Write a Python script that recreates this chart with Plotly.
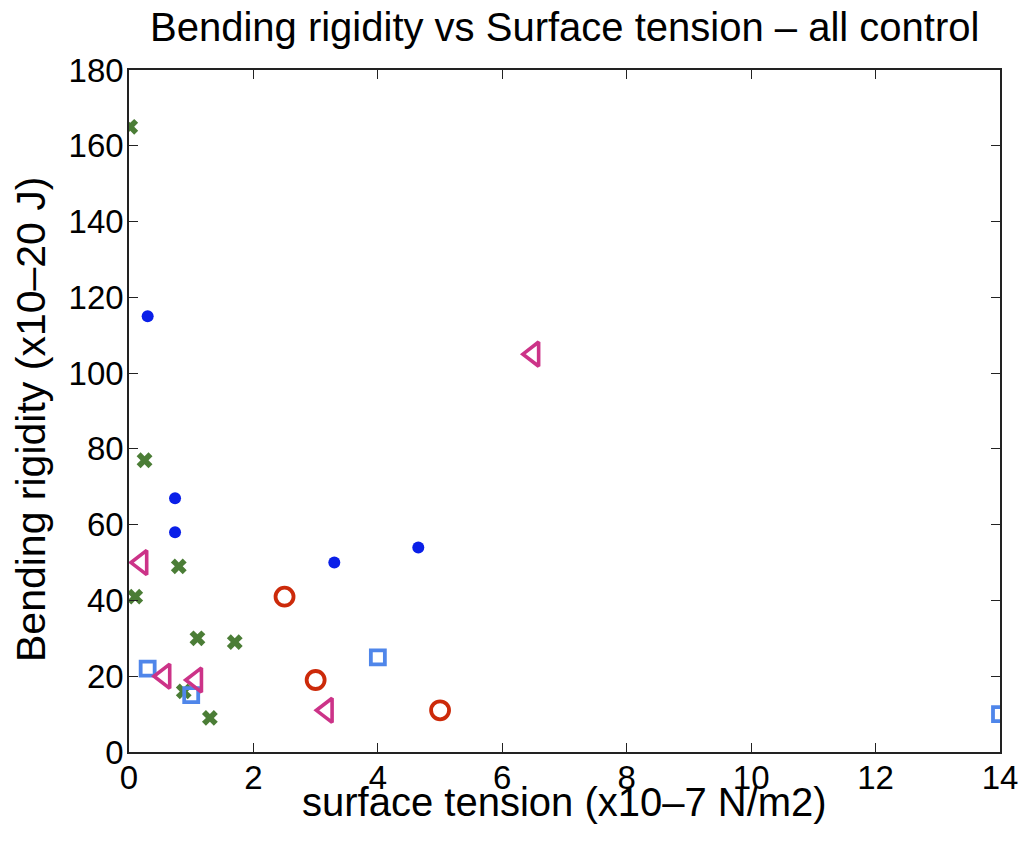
import plotly.graph_objects as go

# data
blue_x = [0.3, 0.74, 0.74, 3.3, 4.65]
blue_y = [115, 67, 58, 50, 54]

green_x = [0.02, 0.25, 0.8, 0.1, 1.1, 1.7, 0.88, 1.3]
green_y = [165, 77, 49, 41, 30, 29, 16, 9]

red_x = [2.5, 3.0, 5.0]
red_y = [41, 19, 11]

sq_x = [0.3, 1.0, 4.0, 14.0]
sq_y = [22, 15, 25, 10]

tri_x = [6.5, 0.2, 0.57, 1.08, 3.18]
tri_y = [105, 50, 20, 19, 11]

x_ticks = [0, 2, 4, 6, 8, 10, 12, 14]
y_ticks = [0, 20, 40, 60, 80, 100, 120, 140, 160, 180]

FONT = "Liberation Sans, Arial, Helvetica, sans-serif"

W, H = 1022, 844
ML, MR, MT, MB = 129, 22, 70, 92
PW, PH = W - ML - MR, H - MT - MB

fig = go.Figure()
fig.add_trace(go.Scatter(x=blue_x, y=blue_y, mode="markers",
                         marker=dict(symbol="circle", size=12, color="#0a1fe8", line=dict(width=0))))
fig.add_trace(go.Scatter(x=green_x, y=green_y, mode="markers",
                         marker=dict(symbol="x", size=14, color="#4b7d36", line=dict(width=0))))
fig.add_trace(go.Scatter(x=red_x, y=red_y, mode="markers",
                         marker=dict(symbol="circle-open", size=18, color="#cc2a0a", line=dict(width=3.8))))
fig.add_trace(go.Scatter(x=sq_x, y=sq_y, mode="markers",
                         marker=dict(symbol="square-open", size=14, color="#4f86ea", line=dict(width=3.8))))
fig.add_trace(go.Scatter(x=tri_x, y=tri_y, mode="markers",
                         marker=dict(symbol="triangle-left-open", size=21, color="#cc3388", line=dict(width=3.6))))

axis_common = dict(
    showgrid=False, zeroline=False, showline=True, linecolor="#222", linewidth=1.6,
    mirror="ticks", ticks="inside", ticklen=9, tickwidth=1.2, tickcolor="#222",
    tickfont=dict(family=FONT, size=33, color="#000"), automargin=False,
)

fig.update_layout(
    width=W, height=H,
    margin=dict(l=ML, r=MR, t=MT, b=MB, autoexpand=False),
    paper_bgcolor="white", plot_bgcolor="white",
    showlegend=False,
    font=dict(family=FONT, color="#000"),
    xaxis=dict(range=[0, 14], tickvals=x_ticks, ticklabelstandoff=-4, **axis_common),
    yaxis=dict(range=[0, 180], tickvals=y_ticks, ticklabelstandoff=-3, **axis_common),
    annotations=[
        dict(text="Bending rigidity vs Surface tension \u2013 all control",
             x=0.5, y=1 + (MT - 27) / PH, xanchor="center", yanchor="middle",
             xref="paper", yref="paper", showarrow=False,
             font=dict(family=FONT, size=40, color="#000")),
        dict(text="surface tension (x10\u20137 N/m2)",
             x=0.5, y=-(802 - (H - MB)) / PH, xanchor="center", yanchor="middle",
             xref="paper", yref="paper", showarrow=False,
             font=dict(family=FONT, size=40, color="#000")),
        dict(text="Bending rigidity (x10\u201320 J)", textangle=-90,
             x=-(ML - 31) / PW, y=(H - MB - 420) / PH, xanchor="center", yanchor="middle",
             xref="paper", yref="paper", showarrow=False,
             font=dict(family=FONT, size=41, color="#000")),
    ],
)

fig.write_html("out.html")
